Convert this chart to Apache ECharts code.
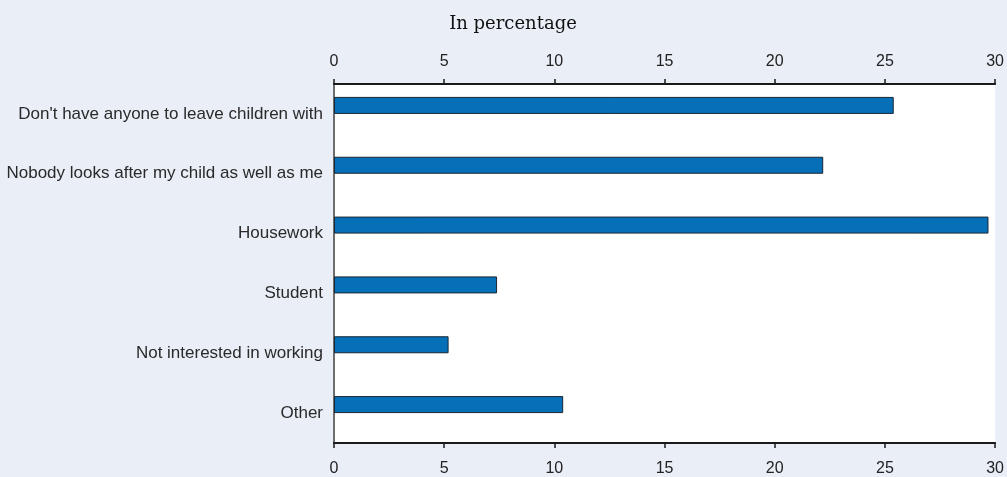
<!DOCTYPE html>
<html>
<head>
<meta charset="utf-8">
<script src="https://cdn.jsdelivr.net/npm/echarts@6/dist/echarts.min.js"></script>
<style>
  html, body { margin: 0; padding: 0; background: #e9eef7; }
  #chart { width: 1007px; height: 477px; }
</style>
</head>
<body>
<div id="chart"></div>
<script>
// reasons categories, top to bottom
const categories = [
  "Don't have anyone to leave children with",
  'Nobody looks after my child as well as me',
  'Housework',
  'Student',
  'Not interested in working',
  'Other'
]
// share in percent
const values = [25.4, 22.2, 29.7, 7.4, 5.2, 10.4]
const xTicks = [0, 5, 10, 15, 20, 25, 30]

const labelFont = "'Liberation Sans Narrow', 'Liberation Sans', Arial, sans-serif"

let chart = echarts.init(document.getElementById('chart'), null, {renderer: 'canvas'})

const valueAxis = (pos, margin) => ({
  type: 'value',
  position: pos,
  min: xTicks[0],
  max: xTicks[xTicks.length - 1],
  interval: 5,
  axisLine: {show: true, lineStyle: {color: '#1a1a1a', width: 2}},
  axisTick: {show: true, length: 5, lineStyle: {color: '#1a1a1a', width: 1.5}},
  axisLabel: {color: '#222', fontSize: 16, fontFamily: labelFont, margin: margin},
  splitLine: {show: false}
})

let option = {
  backgroundColor: '#e9eef7',
  animation: false,
  title: {
    text: 'In percentage',
    left: 508,
    top: 10,
    textAlign: 'center',
    textStyle: {fontFamily: "'DejaVu Serif', serif", fontWeight: 'normal', fontSize: 18, color: '#111'}
  },
  grid: {
    left: 334, right: 11, top: 84, bottom: 34,
    show: true, backgroundColor: '#ffffff', borderWidth: 0
  },
  xAxis: [valueAxis('top', 14), valueAxis('bottom', 18)],
  yAxis: [{
    type: 'category',
    data: categories,
    inverse: true,
    axisLine: {show: true, lineStyle: {color: '#1a1a1a', width: 2}},
    axisTick: {show: false},
    axisLabel: {color: '#2a2a2a', fontSize: 17, fontFamily: labelFont, margin: 11}
  }, {
    // right edge of the plot box
    type: 'category',
    position: 'right',
    data: categories,
    inverse: true,
    axisLine: {show: true, lineStyle: {color: '#8a8a8a', width: 1.5}},
    axisTick: {show: false},
    axisLabel: {show: false}
  }],
  series: [{
    type: 'bar',
    data: values,
    barWidth: 17,
    barGap: '0%',
    itemStyle: {color: '#0570b8', borderColor: '#1b2633', borderWidth: 1}
  }, {
    // empty slot so bars sit above the category centre like the original
    type: 'bar',
    data: [],
    barWidth: 17,
    barGap: '0%'
  }]
}
chart.setOption(option)
</script>
</body>
</html>
